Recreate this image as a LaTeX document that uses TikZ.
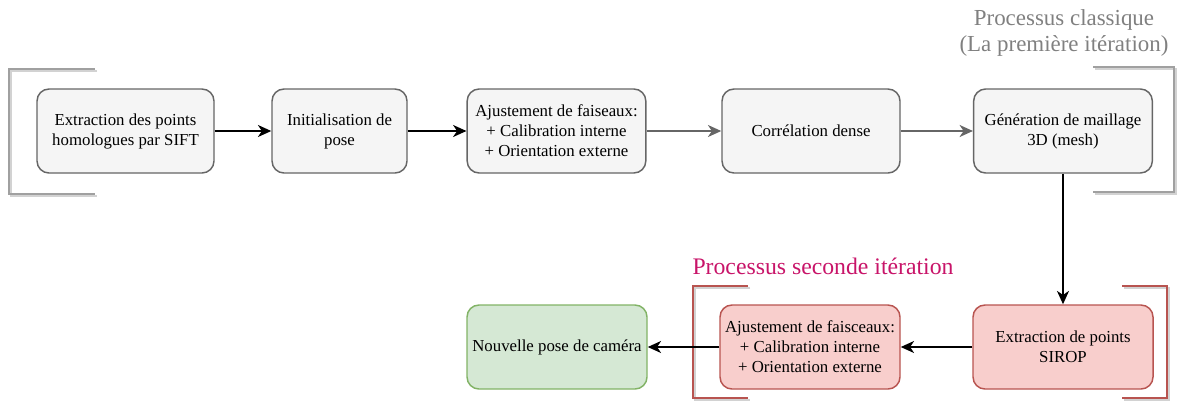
\documentclass[tikz,border=0pt]{standalone}
\usepackage{fontspec}
\setmainfont{Liberation Serif}
\usetikzlibrary{arrows.meta}

\definecolor{greyfill}{RGB}{245,245,245}
\definecolor{greyline}{RGB}{102,102,102}
\definecolor{redfill}{RGB}{248,206,204}
\definecolor{redline}{RGB}{184,84,80}
\definecolor{greenfill}{RGB}{213,232,212}
\definecolor{greenline}{RGB}{130,179,102}
\definecolor{titlegrey}{RGB}{128,128,128}
\definecolor{titlered}{RGB}{200,20,105}
\definecolor{bracketgrey}{RGB}{160,160,160}
\definecolor{shadowgrey}{RGB}{210,210,210}

\tikzset{
  stepbox/.style={draw=greyline, fill=greyfill, line width=1.1pt, rounded corners=9pt,
    minimum height=63pt, align=center, inner sep=2pt, font=\fontsize{12.6}{15}\selectfont},
  redbox/.style={stepbox, draw=redline, fill=redfill},
  greenbox/.style={stepbox, draw=greenline, fill=greenfill},
  blackarrow/.style={line width=1.4pt, -{Stealth[length=10pt,width=9pt,inset=3pt]}},
  greyarrow/.style={blackarrow, draw=greyline},
  bracketline/.style={line width=1.5pt},
}

\begin{document}
\begin{tikzpicture}[x=0.75pt,y=0.75pt,yscale=-1,xscale=1]
\useasboundingbox (0,0) rectangle (1177,401);

%Shape: Brackets, first pass
\draw [shadowgrey][bracketline] (97,71) -- (11,71) -- (11,196) -- (97,196) ;
\draw [bracketgrey][bracketline] (95,69) -- (9,69) -- (9,194) -- (95,194) ;
\draw [shadowgrey][bracketline] (1095,69) -- (1176,69) -- (1176,194) -- (1095,194) ;
\draw [bracketgrey][bracketline] (1093,67) -- (1174,67) -- (1174,192) -- (1093,192) ;

%Shape: Brackets, second pass
\draw [shadowgrey][bracketline] (750,288) -- (695,288) -- (695,400) -- (750,400) ;
\draw [redline][bracketline] (748,286) -- (693,286) -- (693,398) -- (748,398) ;
\draw [shadowgrey][bracketline] (1124,288) -- (1169,288) -- (1169,400) -- (1124,400) ;
\draw [redline][bracketline] (1122,286) -- (1167,286) -- (1167,398) -- (1122,398) ;

%Rounded Rect: first pass
\node [stepbox, minimum width=132.75pt] (sift) at (125.5,131) {Extraction des points\\homologues par SIFT};
\node [stepbox, minimum width=101.25pt] (pose) at (339.5,131) {Initialisation de\\pose};
\node [stepbox, minimum width=134pt] (bundle) at (556.5,131) {Ajustement de faiseaux:\\+ Calibration interne\\+ Orientation externe};
\node [stepbox, minimum width=133.5pt] (dense) at (811,131) {Corrélation dense};
\node [stepbox, minimum width=134pt] (mesh) at (1063,131) {Génération de maillage\\3D (mesh)};

%Rounded Rect: second pass
\node [redbox, minimum width=135pt] (sirop) at (1063,347) {Extraction de points\\SIROP};
\node [redbox, minimum width=135pt] (rebundle) at (810,347) {Ajustement de faisceaux:\\+ Calibration interne\\+ Orientation externe};
\node [greenbox, minimum width=135pt] (camera) at (557,347) {Nouvelle pose de caméra};

% Text Node
\node [titlegrey, align=center, font=\fontsize{17.2}{20}\selectfont] (classic) at (1064,33) {Processus classique\\(La première itération)};
% Text Node
\node [titlered, font=\fontsize{17.8}{20}\selectfont] (second) at (823,266) {Processus seconde itération};

%Straight Lines
\draw [blackarrow] (sift) -- (pose) ;
\draw [blackarrow] (pose) -- (bundle) ;
\draw [greyarrow] (bundle) -- (dense) ;
\draw [greyarrow] (dense) -- (mesh) ;
\draw [blackarrow] (mesh.south) -- (sirop.north) ;
\draw [blackarrow] (sirop) -- (rebundle) ;
\draw [blackarrow] (rebundle) -- (camera) ;

\end{tikzpicture}
\end{document}
